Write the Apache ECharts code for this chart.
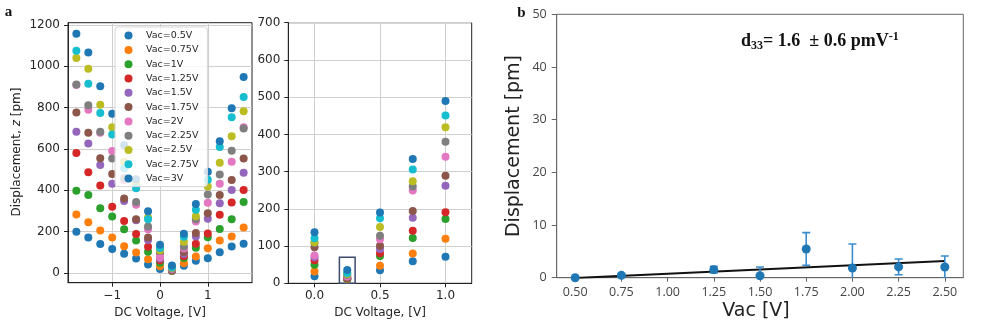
<!DOCTYPE html>
<html><head><meta charset="utf-8">
<script src="https://cdn.jsdelivr.net/npm/echarts@6/dist/echarts.min.js"></script>
<style>html,body{margin:0;padding:0;background:#fff}#c{width:981px;height:324px}</style>
</head><body><div id="c"></div>
<script>
// ---------- data: panel a ----------
const dcVoltage = [-1.75,-1.5,-1.25,-1,-0.75,-0.5,-0.25,0,0.25,0.5,0.75,1,1.25,1.5,1.75];
const vacNames = ['Vac=0.5V','Vac=0.75V','Vac=1V','Vac=1.25V','Vac=1.5V','Vac=1.75V','Vac=2V','Vac=2.25V','Vac=2.5V','Vac=2.75V','Vac=3V'];
const v050 = [199,172,140,116,93,70,41,19,10,35,59,71,100,128,141];
const v075 = [283,246,206,172,129,99,67,32,11,47,80,120,157,177,220];
const v100 = [398,377,313,273,212,157,103,50,12,73,122,173,213,260,343];
const v125 = [580,487,423,321,252,189,127,62,14,81,141,191,282,341,401];
const v150 = [683,627,522,432,348,255,160,70,15,92,176,262,338,402,485];
const v175 = [776,678,555,479,360,260,172,97,13,101,194,289,377,450,554];
const v200 = [910,790,678,590,450,330,212,75,18,118,249,340,432,538,705];
const v225 = [912,811,683,554,458,344,225,108,22,128,260,380,477,592,699];
const v250 = [1040,988,814,705,538,430,268,110,25,151,274,419,533,662,782];
const v275 = [1075,916,774,670,506,410,260,121,28,175,306,451,609,754,852];
const v300 = [1158,1067,903,770,618,453,299,137,36,190,334,490,638,797,948];
const xTicksA = [-1,0,1];
const yTicksA = [0,200,400,600,800,1000,1200];
const xTicksB = [0,0.5,1];
const yTicksB = [0,100,200,300,400,500,600,700];
const boxX = [0.19,0.31];
const boxY = [0,70];
// ---------- data: panel b ----------
const vacAmp = [0.5,0.75,1.25,1.5,1.75,2.0,2.25,2.5];
const dispMean = [0.0,0.45,1.52,0.38,5.45,1.84,2.05,2.03];
const dispErr = [0.0,0.25,0.64,1.65,3.1,4.57,1.5,2.1];
const fitVac = [0.5,2.5];
const fitDisp = [-0.05,3.15];
const xTicksC = [0.5,0.75,1,1.25,1.5,1.75,2,2.25,2.5];
const yTicksC = [0,10,20,30,40,50];

const seriesValues = [v050,v075,v100,v125,v150,v175,v200,v225,v250,v275,v300];
const palette = ['#1f77b4','#ff7f0e','#2ca02c','#d62728','#9467bd','#8c564b','#e377c2','#7f7f7f','#bcbd22','#17becf','#1f77b4'];

const chart = echarts.init(document.getElementById('c'), null, {renderer:'canvas'});
const ink = '#262626';
const mono = 'DejaVu Sans';

function mplX(idx, min, max, step, ticks, fmt){
  return {gridIndex:idx, type:'value', min:min, max:max, minInterval:step, maxInterval:step,
    axisLine:{show:true,onZero:false,lineStyle:{color:'#222',width:1}},
    axisTick:{show:true,customValues:ticks,length:4,lineStyle:{color:'#222'}},
    axisLabel:{customValues:ticks,formatter:fmt,fontSize:12,color:ink,margin:7,fontFamily:mono},
    splitLine:{show:true,lineStyle:{color:'#cfcfcf',width:1}}};
}
function mplY(idx, min, max, step, ticks){
  return {gridIndex:idx, type:'value', min:min, max:max, minInterval:step, maxInterval:step,
    axisLine:{show:true,onZero:false,lineStyle:{color:'#222',width:1}},
    axisTick:{show:true,customValues:ticks,length:4,lineStyle:{color:'#222'}},
    axisLabel:{customValues:ticks,formatter:v=>String(v),fontSize:12,color:ink,margin:8,fontFamily:mono},
    splitLine:{show:true,lineStyle:{color:'#cfcfcf',width:1}}};
}
const minusFmt = v => (v<0 ? '\u2212'+Math.abs(v) : String(v));

const series = [];
seriesValues.forEach((vals,i)=>{
  const pts = dcVoltage.map((x,j)=>[x,vals[j]]);
  series.push({name:vacNames[i],type:'scatter',xAxisIndex:0,yAxisIndex:0,data:pts,symbolSize:8,
    itemStyle:{color:palette[i],opacity:1},emphasis:{disabled:true}});
});
seriesValues.forEach((vals,i)=>{
  const pts = dcVoltage.map((x,j)=>[x,vals[j]]);
  const s = {name:vacNames[i],type:'scatter',xAxisIndex:1,yAxisIndex:1,data:pts,symbolSize:8,
    itemStyle:{color:palette[i],opacity:1},emphasis:{disabled:true}};
  if(i===0){
    s.markArea = {silent:true,itemStyle:{color:'rgba(0,0,0,0)',borderColor:'#3c4a6c',borderWidth:1.5},
      data:[[{coord:[boxX[0],boxY[0]]},{coord:[boxX[1],boxY[1]]}]]};
  }
  series.push(s);
});
// panel b
series.push({type:'line',xAxisIndex:2,yAxisIndex:2,data:fitVac.map((x,i)=>[x,fitDisp[i]]),
  symbol:'none',lineStyle:{color:'#111',width:2},clip:true,z:3,silent:true});
series.push({type:'custom',xAxisIndex:2,yAxisIndex:2,clip:true,z:4,silent:true,
  data:vacAmp.map((x,i)=>[x,dispMean[i]-dispErr[i],dispMean[i]+dispErr[i]]),
  renderItem:function(params,api){
    const x = api.value(0);
    const lo = api.coord([x,api.value(1)]);
    const hi = api.coord([x,api.value(2)]);
    const w = 4;
    const st = {stroke:'#3a8ccc',lineWidth:1.6};
    return {type:'group',children:[
      {type:'line',shape:{x1:lo[0],y1:lo[1],x2:hi[0],y2:hi[1]},style:st},
      {type:'line',shape:{x1:lo[0]-w,y1:lo[1],x2:lo[0]+w,y2:lo[1]},style:st},
      {type:'line',shape:{x1:hi[0]-w,y1:hi[1],x2:hi[0]+w,y2:hi[1]},style:st}
    ]};
  }});
series.push({type:'scatter',xAxisIndex:2,yAxisIndex:2,data:vacAmp.map((x,i)=>[x,dispMean[i]]),
  symbolSize:9,itemStyle:{color:'#1f77b4',opacity:1},z:5,silent:true});

const option = {
  animation:false,
  backgroundColor:'#fff',
  grid:[
    {left:68,top:22.7,width:184,height:260,show:true,borderColor:'#222',borderWidth:1,backgroundColor:'rgba(0,0,0,0)'},
    {left:288.3,top:22.7,width:183.4,height:260.6,show:true,borderColor:'#222',borderWidth:1,backgroundColor:'rgba(0,0,0,0)'},
    {left:556.7,top:14.3,width:406.6,height:263.4,show:true,borderColor:'#666',borderWidth:1,backgroundColor:'rgba(0,0,0,0)'}
  ],
  xAxis:[
    mplX(0,-1.925,1.925,1,xTicksA,minusFmt),
    mplX(1,-0.2,1.2,0.5,xTicksB,v=>v.toFixed(1)),
    {gridIndex:2,type:'value',min:0.4,max:2.6,minInterval:0.25,maxInterval:0.25,
      axisLine:{show:true,onZero:false,lineStyle:{color:'#666'}},
      axisTick:{show:true,customValues:xTicksC,length:4,lineStyle:{color:'#666'}},
      axisLabel:{customValues:xTicksC,formatter:v=>v.toFixed(2),fontSize:12.5,color:'#444',margin:8,fontFamily:'Open Sans'},
      splitLine:{show:false}}
  ],
  yAxis:[
    mplY(0,-47,1211,200,yTicksA),
    mplY(1,0,700,100,yTicksB),
    {gridIndex:2,type:'value',min:0,max:50,interval:10,
      axisLine:{show:true,lineStyle:{color:'#666'}},
      axisTick:{show:true,customValues:yTicksC,length:5,lineStyle:{color:'#666'}},
      axisLabel:{customValues:yTicksC,fontSize:12.5,color:'#444',margin:10,fontFamily:'Open Sans'},
      splitLine:{show:false}}
  ],
  legend:{data:vacNames,orient:'vertical',left:115,top:27,icon:'circle',itemWidth:9,itemHeight:8,itemGap:4.3,
    padding:[3.6,9,3,9.5],backgroundColor:'rgba(255,255,255,0.8)',borderColor:'#d6d6d6',borderWidth:1,borderRadius:3,
    textStyle:{fontSize:9.5,lineHeight:9,color:ink,fontFamily:mono,padding:[0,0,0,8]},selectedMode:false,z:10},
  graphic:[
    {type:'text',x:8.5,y:12.5,style:{text:'a',font:'bold 15px "Liberation Serif"',fill:'#111',align:'center',verticalAlign:'middle'}},
    {type:'text',x:521.5,y:13.5,style:{text:'b',font:'bold 15px "Liberation Serif"',fill:'#111',align:'center',verticalAlign:'middle'}},
    {type:'text',x:17,y:152,rotation:Math.PI/2,style:{text:'Displacement, {i|z} [pm]',font:'12px "DejaVu Sans"',fill:ink,align:'center',verticalAlign:'middle',
      rich:{i:{fontStyle:'italic',fontSize:12,fontFamily:mono,fill:ink}}}},
    {type:'text',x:160,y:313,style:{text:'DC Voltage, [V]',font:'12px "DejaVu Sans"',fill:ink,align:'center',verticalAlign:'middle'}},
    {type:'text',x:380,y:313,style:{text:'DC Voltage, [V]',font:'12px "DejaVu Sans"',fill:ink,align:'center',verticalAlign:'middle'}},
    {type:'text',x:514,y:146,rotation:Math.PI/2,style:{text:'Displacement [pm]',font:'19px "DejaVu Sans"',fill:'#222',align:'center',verticalAlign:'middle'}},
    {type:'text',x:756,y:311,style:{text:'Vac [V]',font:'19px "DejaVu Sans"',fill:'#222',align:'center',verticalAlign:'middle'}},
    {type:'text',x:741,y:41,style:{text:'d{s|33}= 1.6  \u00b1 0.6 pmV{p|-1}',font:'bold 18px "Liberation Serif"',fill:'#111',align:'left',verticalAlign:'middle',
      rich:{s:{fontSize:12,fontWeight:'bold',fontFamily:'Liberation Serif',padding:[9,0,0,0],fill:'#111'},
            p:{fontSize:12,fontWeight:'bold',fontFamily:'Liberation Serif',padding:[0,0,8,0],fill:'#111'}}}}
  ],
  series:series
};
chart.setOption(option);
</script></body></html>
